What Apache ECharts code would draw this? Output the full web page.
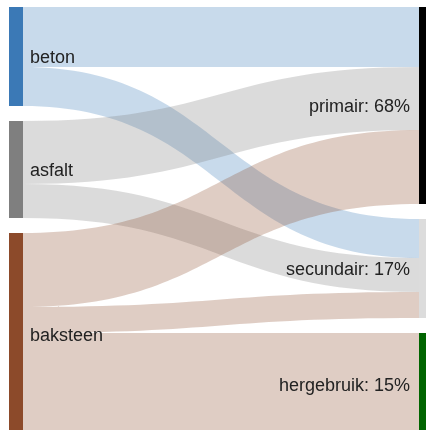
<!DOCTYPE html>
<html>
<head>
<meta charset="utf-8">
<script src="https://cdn.jsdelivr.net/npm/echarts@6/dist/echarts.min.js"></script>
<style>
html,body{margin:0;padding:0;background:#fff;}
#c{width:426px;height:430px;}
</style>
</head>
<body>
<div id="c"></div>
<script>
var sourceNodes = ['beton', 'asfalt', 'baksteen'];
var sourceColors = ['#3b79b6', '#7f7f7f', '#8c4a2a'];
var targetNodes = ['primair: 68%', 'secundair: 17%', 'hergebruik: 15%'];
var targetColors = ['#000000', '#dcdcdc', '#006400'];
var linkSources = ['beton', 'beton', 'asfalt', 'asfalt', 'baksteen', 'baksteen', 'baksteen'];
var linkTargets = ['primair: 68%', 'secundair: 17%', 'primair: 68%', 'secundair: 17%', 'primair: 68%', 'secundair: 17%', 'hergebruik: 15%'];
var linkValues = [60, 39, 63, 34, 74, 26, 102];

var nodes = [];
sourceNodes.forEach(function (n, i) {
  nodes.push({ name: n, itemStyle: { color: sourceColors[i] }, label: { position: 'right', distance: 7 } });
});
targetNodes.forEach(function (n, i) {
  nodes.push({ name: n, itemStyle: { color: targetColors[i] }, label: { position: 'left', distance: 9 } });
});
var colorOf = {};
sourceNodes.forEach(function (n, i) { colorOf[n] = sourceColors[i]; });
var links = linkSources.map(function (s, i) {
  return { source: s, target: linkTargets[i], value: linkValues[i], lineStyle: { color: colorOf[s], opacity: 0.28 } };
});

var chart = echarts.init(document.getElementById('c'), null, { renderer: 'canvas' });
chart.setOption({
  animation: false,
  series: [{
    type: 'sankey',
    left: 9,
    right: -7,
    top: 7,
    bottom: -5,
    nodeWidth: 14,
    nodeGap: 15,
    layoutIterations: 0,
    draggable: false,
    emphasis: { disabled: true },
    label: {
      color: '#222',
      fontSize: 18,
      offset: [0, 2],
      fontFamily: 'Liberation Sans, Arial, sans-serif'
    },
    itemStyle: { borderWidth: 0 },
    lineStyle: { curveness: 0.5 },
    data: nodes,
    links: links
  }]
});
</script>
</body>
</html>
